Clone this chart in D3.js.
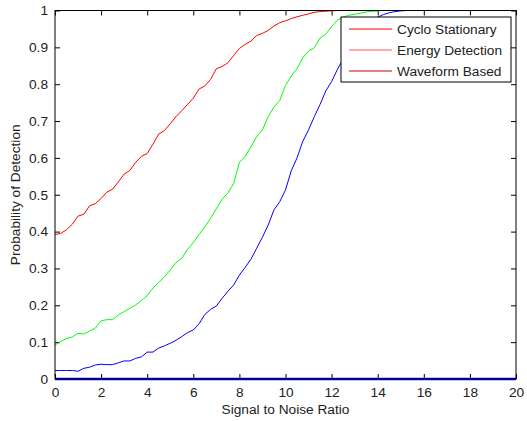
<!DOCTYPE html>
<html>
<head>
<meta charset="utf-8">
<script src="https://cdn.jsdelivr.net/npm/d3@7"></script>
<style>
  body { margin: 0; background: #fff; }
  text { font-family: "Liberation Sans", Arial, sans-serif; fill: #222; }
</style>
</head>
<body>
<svg id="chart"></svg>
<script>
// SNR values (x), step 0.25 dB from 0 to 20
const snr = d3.range(0, 81).map(i => i * 0.25);

const cycloStationary = [
  0.392, 0.395, 0.405, 0.420, 0.442, 0.447, 0.470, 0.476, 0.490, 0.507,
  0.515, 0.535, 0.556, 0.566, 0.588, 0.604, 0.612, 0.637, 0.665, 0.674,
  0.693, 0.712, 0.728, 0.745, 0.762, 0.787, 0.795, 0.813, 0.842, 0.848,
  0.858, 0.878, 0.897, 0.908, 0.917, 0.932, 0.938, 0.946, 0.958, 0.967,
  0.972, 0.978, 0.983, 0.987, 0.991, 0.995, 0.997, 0.998, 0.999, 1,
  1, 1, 1, 1, 1, 1, 1, 1, 1, 1,
  1, 1, 1, 1, 1, 1, 1, 1, 1, 1,
  1, 1, 1, 1, 1, 1, 1, 1, 1, 1, 1
];

const energyDetection = [
  0.092, 0.102, 0.110, 0.114, 0.124, 0.122, 0.130, 0.138, 0.158, 0.161,
  0.161, 0.174, 0.183, 0.192, 0.201, 0.213, 0.226, 0.247, 0.262, 0.277,
  0.296, 0.316, 0.327, 0.352, 0.370, 0.392, 0.413, 0.436, 0.462, 0.488,
  0.505, 0.530, 0.588, 0.604, 0.630, 0.658, 0.676, 0.712, 0.738, 0.756,
  0.797, 0.822, 0.842, 0.872, 0.890, 0.899, 0.925, 0.936, 0.956, 0.974,
  0.982, 0.987, 0.990, 0.993, 0.996, 0.998, 0.999, 1, 1, 1,
  1, 1, 1, 1, 1, 1, 1, 1, 1, 1,
  1, 1, 1, 1, 1, 1, 1, 1, 1, 1, 1
];

const waveformBased = [
  0.023, 0.023, 0.023, 0.023, 0.021, 0.029, 0.032, 0.038, 0.040, 0.039,
  0.039, 0.044, 0.049, 0.049, 0.056, 0.060, 0.073, 0.073, 0.084, 0.090,
  0.097, 0.105, 0.115, 0.126, 0.133, 0.150, 0.175, 0.189, 0.198, 0.219,
  0.238, 0.255, 0.282, 0.303, 0.325, 0.355, 0.385, 0.418, 0.459, 0.481,
  0.513, 0.565, 0.600, 0.645, 0.676, 0.712, 0.745, 0.782, 0.807, 0.840,
  0.868, 0.895, 0.920, 0.940, 0.958, 0.972, 0.982, 0.989, 0.994, 0.997,
  0.999, 1, 1, 1, 1, 1, 1, 1, 1, 1,
  1, 1, 1, 1, 1, 1, 1, 1, 1, 1, 1
];

// baseline drawn along zero
const baseline = snr.map(() => 0);

const xTicks = [0, 2, 4, 6, 8, 10, 12, 14, 16, 18, 20];
const yTicks = [0, 0.1, 0.2, 0.3, 0.4, 0.5, 0.6, 0.7, 0.8, 0.9, 1];

const legendNames = ['Cyclo Stationary', 'Energy Detection', 'Waveform Based'];
const legendColors = ['#ff0000', '#ff5a5a', '#d40000'];

const width = 527, height = 421;
const margin = { top: 10.5, right: 11, bottom: 42, left: 55 };
const innerW = width - margin.left - margin.right;
const innerH = height - margin.top - margin.bottom;
const fs = 13.7;

const svg = d3.select('#chart')
  .attr('width', width)
  .attr('height', height);

const g = svg.append('g')
  .attr('transform', `translate(${margin.left},${margin.top})`);

const x = d3.scaleLinear().domain([0, 20]).range([0, innerW]);
const y = d3.scaleLinear().domain([0, 1]).range([innerH, 0]);

// Axes (MATLAB style: inward ticks, mirrored on top and right)
const fmtY = d => d === 0 || d === 1 ? String(d) : d3.format('.1f')(d);

g.append('g')
  .attr('transform', `translate(0,${innerH})`)
  .call(d3.axisBottom(x).tickValues(xTicks).tickSize(-5).tickPadding(8).tickFormat(d3.format('d')))
  .call(ax => ax.select('.domain').remove())
  .call(ax => ax.selectAll('text').attr('font-size', fs));

g.append('g')
  .call(d3.axisLeft(y).tickValues(yTicks).tickSize(-5).tickPadding(7).tickFormat(fmtY))
  .call(ax => ax.select('.domain').remove())
  .call(ax => ax.selectAll('text').attr('font-size', fs));

g.append('g')
  .call(d3.axisTop(x).tickValues(xTicks).tickSize(-5).tickFormat(''))
  .call(ax => ax.select('.domain').remove());

g.append('g')
  .attr('transform', `translate(${innerW},0)`)
  .call(d3.axisRight(y).tickValues(yTicks).tickSize(-5).tickFormat(''))
  .call(ax => ax.select('.domain').remove());

g.selectAll('.tick line').attr('stroke', '#000');

// Curves
const line = d3.line()
  .x((d, i) => x(snr[i]))
  .y(d => y(d));

const series = [
  { values: cycloStationary, color: '#ff0000', w: 1 },
  { values: energyDetection, color: '#00ff00', w: 1 },
  { values: waveformBased, color: '#0000ff', w: 1 },
  { values: baseline, color: '#0000ff', w: 2.5 }
];

g.selectAll('.curve')
  .data(series)
  .join('path')
  .attr('class', 'curve')
  .attr('fill', 'none')
  .attr('stroke', d => d.color)
  .attr('stroke-width', d => d.w)
  .attr('d', d => line(d.values));

// Box
g.append('rect')
  .attr('width', innerW)
  .attr('height', innerH)
  .attr('fill', 'none')
  .attr('stroke', '#000')
  .attr('stroke-width', 1);

// Axis titles
svg.append('text')
  .attr('x', margin.left + innerW / 2)
  .attr('y', 414)
  .attr('text-anchor', 'middle')
  .attr('font-size', fs)
  .text('Signal to Noise Ratio');

svg.append('text')
  .attr('transform', `translate(20,${margin.top + innerH / 2}) rotate(-90)`)
  .attr('text-anchor', 'middle')
  .attr('font-size', fs)
  .text('Probability of Detection');

// Legend
const legend = svg.append('g').attr('transform', 'translate(341,17)');
legend.append('rect')
  .attr('width', 170)
  .attr('height', 65)
  .attr('fill', '#fff')
  .attr('stroke', '#000');

const items = legend.selectAll('.item')
  .data(legendNames)
  .join('g')
  .attr('class', 'item')
  .attr('transform', (d, i) => `translate(0,${12 + i * 21})`);

items.append('line')
  .attr('x1', 8).attr('x2', 51)
  .attr('stroke', (d, i) => legendColors[i])
  .attr('stroke-width', 1);

items.append('text')
  .attr('x', 56)
  .attr('dy', '0.35em')
  .attr('font-size', fs)
  .text(d => d);
</script>
</body>
</html>
